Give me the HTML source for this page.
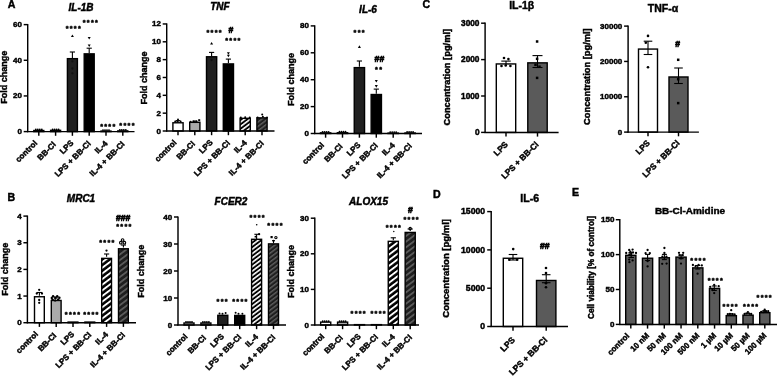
<!DOCTYPE html>
<html><head><meta charset="utf-8"><title>Figure</title>
<style>html,body{margin:0;padding:0;background:#fff;}svg{display:block;}</style>
</head><body>
<svg width="777" height="376" viewBox="0 0 777 376" font-family="'Liberation Sans', Arial, Helvetica, sans-serif">
<defs>
<pattern id="hw" patternUnits="userSpaceOnUse" width="10" height="3.5" patternTransform="rotate(-37)"><rect width="10" height="3.5" fill="#000"/><rect width="10" height="1.6" fill="#fff"/></pattern>
<pattern id="hg" patternUnits="userSpaceOnUse" width="10" height="3.5" patternTransform="rotate(-37)"><rect width="10" height="3.5" fill="#1e1e1e"/><rect width="10" height="1.4" fill="#5e5e5e"/></pattern>
<pattern id="hw2" patternUnits="userSpaceOnUse" width="10" height="4.5" patternTransform="rotate(-37)"><rect width="10" height="4.5" fill="#000"/><rect width="10" height="1.9" fill="#fff"/></pattern>
<pattern id="hg2" patternUnits="userSpaceOnUse" width="10" height="4.5" patternTransform="rotate(-37)"><rect width="10" height="4.5" fill="#1e1e1e"/><rect width="10" height="1.7" fill="#5e5e5e"/></pattern>
</defs>
<rect width="777" height="376" fill="#fff"/>
<text x="11.6" y="7.8" font-size="10.6" text-anchor="middle" font-weight="bold" fill="#000" stroke="#000" stroke-width="0.45">A</text>
<rect x="33.8" y="130.52" width="10" height="1.08" fill="#fff" stroke="#000" stroke-width="1.4"/>
<rect x="50.6" y="130.34" width="10" height="1.26" fill="#a9a9a9" stroke="#000" stroke-width="1.4"/>
<rect x="67.4" y="58.66" width="10" height="72.94" fill="#202020" stroke="#000" stroke-width="1.4"/>
<rect x="84.2" y="53.85" width="10" height="77.75" fill="#000" stroke="#000" stroke-width="1.4"/>
<rect x="101" y="131.05" width="10" height="0.55" fill="url(#hw)" stroke="#000" stroke-width="1.4"/>
<rect x="117.8" y="130.87" width="10" height="0.73" fill="url(#hg)" stroke="#000" stroke-width="1.4"/>
<line x1="27.7" y1="24.02" x2="27.7" y2="132.2" stroke="#000" stroke-width="1.45"/>
<line x1="27.1" y1="131.6" x2="134.5" y2="131.6" stroke="#000" stroke-width="1.45"/>
<line x1="23.7" y1="131.6" x2="27.7" y2="131.6" stroke="#000" stroke-width="1.45"/>
<text x="21.9" y="134.1" font-size="8" text-anchor="end" font-weight="bold" fill="#000" stroke="#000" stroke-width="0.45">0</text>
<line x1="23.7" y1="95.94" x2="27.7" y2="95.94" stroke="#000" stroke-width="1.45"/>
<text x="21.9" y="98.44" font-size="8" text-anchor="end" font-weight="bold" fill="#000" stroke="#000" stroke-width="0.45">20</text>
<line x1="23.7" y1="60.28" x2="27.7" y2="60.28" stroke="#000" stroke-width="1.45"/>
<text x="21.9" y="62.78" font-size="8" text-anchor="end" font-weight="bold" fill="#000" stroke="#000" stroke-width="0.45">40</text>
<line x1="23.7" y1="24.62" x2="27.7" y2="24.62" stroke="#000" stroke-width="1.45"/>
<text x="21.9" y="27.12" font-size="8" text-anchor="end" font-weight="bold" fill="#000" stroke="#000" stroke-width="0.45">60</text>
<line x1="38.8" y1="131.6" x2="38.8" y2="135.8" stroke="#000" stroke-width="1.45"/>
<line x1="55.6" y1="131.6" x2="55.6" y2="135.8" stroke="#000" stroke-width="1.45"/>
<line x1="72.4" y1="131.6" x2="72.4" y2="135.8" stroke="#000" stroke-width="1.45"/>
<line x1="89.2" y1="131.6" x2="89.2" y2="135.8" stroke="#000" stroke-width="1.45"/>
<line x1="106" y1="131.6" x2="106" y2="135.8" stroke="#000" stroke-width="1.45"/>
<line x1="122.8" y1="131.6" x2="122.8" y2="135.8" stroke="#000" stroke-width="1.45"/>
<text x="37.9" y="143.7" font-size="8" text-anchor="end" font-weight="bold" transform="rotate(-45 37.9 143.7)" fill="#000" stroke="#000" stroke-width="0.45">control</text>
<text x="56.3" y="145" font-size="8" text-anchor="end" font-weight="bold" transform="rotate(-45 56.3 145)" fill="#000" stroke="#000" stroke-width="0.45">BB-Cl</text>
<text x="74.1" y="143.5" font-size="8" text-anchor="end" font-weight="bold" transform="rotate(-45 74.1 143.5)" fill="#000" stroke="#000" stroke-width="0.45">LPS</text>
<text x="91.3" y="144.2" font-size="8" text-anchor="end" font-weight="bold" transform="rotate(-45 91.3 144.2)" fill="#000" stroke="#000" stroke-width="0.45">LPS + BB-Cl</text>
<text x="108.1" y="144" font-size="8" text-anchor="end" font-weight="bold" transform="rotate(-45 108.1 144)" fill="#000" stroke="#000" stroke-width="0.45">IL-4</text>
<text x="125.1" y="144.6" font-size="8" text-anchor="end" font-weight="bold" transform="rotate(-45 125.1 144.6)" fill="#000" stroke="#000" stroke-width="0.45">IL-4 + BB-Cl</text>
<text x="81" y="10.8" font-size="10" text-anchor="middle" font-weight="bold" font-style="italic" fill="#000" stroke="#000" stroke-width="0.45">IL-1B</text>
<text x="7.4" y="77.3" font-size="9" text-anchor="middle" font-weight="bold" transform="rotate(-90 7.4 77.3)" fill="#000" stroke="#000" stroke-width="0.45">Fold change</text>
<circle cx="35.8" cy="129.52" r="0.9" fill="#000"/>
<circle cx="37.8" cy="129.52" r="0.9" fill="#000"/>
<circle cx="39.8" cy="129.52" r="0.9" fill="#000"/>
<circle cx="41.8" cy="129.52" r="0.9" fill="#000"/>
<circle cx="52.6" cy="129.34" r="0.9" fill="#000"/>
<circle cx="54.6" cy="129.34" r="0.9" fill="#000"/>
<circle cx="56.6" cy="129.34" r="0.9" fill="#000"/>
<circle cx="58.6" cy="129.34" r="0.9" fill="#000"/>
<circle cx="103" cy="130.05" r="0.9" fill="#000"/>
<circle cx="105" cy="130.05" r="0.9" fill="#000"/>
<circle cx="107" cy="130.05" r="0.9" fill="#000"/>
<circle cx="109" cy="130.05" r="0.9" fill="#000"/>
<circle cx="119.8" cy="129.87" r="0.9" fill="#000"/>
<circle cx="121.8" cy="129.87" r="0.9" fill="#000"/>
<circle cx="123.8" cy="129.87" r="0.9" fill="#000"/>
<circle cx="125.8" cy="129.87" r="0.9" fill="#000"/>
<line x1="72.4" y1="52" x2="72.4" y2="58" stroke="#000" stroke-width="1.1"/>
<line x1="69.8" y1="52" x2="75" y2="52" stroke="#000" stroke-width="1.1"/>
<polygon points="70.9,37.07 73.9,37.07 72.4,34.52" fill="#000"/>
<circle cx="72.4" cy="61.3" r="1.15" fill="#111"/>
<circle cx="72.4" cy="68.5" r="1.15" fill="#111"/>
<circle cx="72.4" cy="73.3" r="1.15" fill="#111"/>
<line x1="89.2" y1="48.2" x2="89.2" y2="53" stroke="#000" stroke-width="1.1"/>
<line x1="86.6" y1="48.2" x2="91.8" y2="48.2" stroke="#000" stroke-width="1.1"/>
<polygon points="87.7,36.93 90.7,36.93 89.2,39.48" fill="#000"/>
<polygon points="87.7,44.52 90.7,44.52 89.2,47.07" fill="#000"/>
<text x="73.85" y="31.47" font-size="7.2" text-anchor="middle" font-weight="bold" letter-spacing="1.3" stroke="#000" stroke-width="0.45">****</text>
<text x="90.95" y="24.87" font-size="7.2" text-anchor="middle" font-weight="bold" letter-spacing="1.3" stroke="#000" stroke-width="0.45">****</text>
<text x="108.35" y="129.07" font-size="7.2" text-anchor="middle" font-weight="bold" letter-spacing="1.3" stroke="#000" stroke-width="0.45">****</text>
<text x="127.55" y="128.47" font-size="7.2" text-anchor="middle" font-weight="bold" letter-spacing="1.3" stroke="#000" stroke-width="0.45">****</text>
<rect x="172.9" y="122.78" width="10.2" height="8.22" fill="#fff" stroke="#000" stroke-width="1.4"/>
<rect x="189.7" y="122.33" width="10.2" height="8.67" fill="#a9a9a9" stroke="#000" stroke-width="1.4"/>
<rect x="206.5" y="56.77" width="10.2" height="74.23" fill="#202020" stroke="#000" stroke-width="1.4"/>
<rect x="223.3" y="63.91" width="10.2" height="67.09" fill="#000" stroke="#000" stroke-width="1.4"/>
<rect x="240.1" y="118.32" width="10.2" height="12.68" fill="url(#hw)" stroke="#000" stroke-width="1.4"/>
<rect x="256.9" y="117.87" width="10.2" height="13.13" fill="url(#hg)" stroke="#000" stroke-width="1.4"/>
<line x1="166.7" y1="23.36" x2="166.7" y2="131.6" stroke="#000" stroke-width="1.45"/>
<line x1="166.1" y1="131" x2="274.5" y2="131" stroke="#000" stroke-width="1.45"/>
<line x1="162.7" y1="131" x2="166.7" y2="131" stroke="#000" stroke-width="1.45"/>
<text x="160.9" y="133.5" font-size="8" text-anchor="end" font-weight="bold" fill="#000" stroke="#000" stroke-width="0.45">0</text>
<line x1="162.7" y1="113.16" x2="166.7" y2="113.16" stroke="#000" stroke-width="1.45"/>
<text x="160.9" y="115.66" font-size="8" text-anchor="end" font-weight="bold" fill="#000" stroke="#000" stroke-width="0.45">2</text>
<line x1="162.7" y1="95.32" x2="166.7" y2="95.32" stroke="#000" stroke-width="1.45"/>
<text x="160.9" y="97.82" font-size="8" text-anchor="end" font-weight="bold" fill="#000" stroke="#000" stroke-width="0.45">4</text>
<line x1="162.7" y1="77.48" x2="166.7" y2="77.48" stroke="#000" stroke-width="1.45"/>
<text x="160.9" y="79.98" font-size="8" text-anchor="end" font-weight="bold" fill="#000" stroke="#000" stroke-width="0.45">6</text>
<line x1="162.7" y1="59.64" x2="166.7" y2="59.64" stroke="#000" stroke-width="1.45"/>
<text x="160.9" y="62.14" font-size="8" text-anchor="end" font-weight="bold" fill="#000" stroke="#000" stroke-width="0.45">8</text>
<line x1="162.7" y1="41.8" x2="166.7" y2="41.8" stroke="#000" stroke-width="1.45"/>
<text x="160.9" y="44.3" font-size="8" text-anchor="end" font-weight="bold" fill="#000" stroke="#000" stroke-width="0.45">10</text>
<line x1="162.7" y1="23.96" x2="166.7" y2="23.96" stroke="#000" stroke-width="1.45"/>
<text x="160.9" y="26.46" font-size="8" text-anchor="end" font-weight="bold" fill="#000" stroke="#000" stroke-width="0.45">12</text>
<line x1="178" y1="131" x2="178" y2="135.2" stroke="#000" stroke-width="1.45"/>
<line x1="194.8" y1="131" x2="194.8" y2="135.2" stroke="#000" stroke-width="1.45"/>
<line x1="211.6" y1="131" x2="211.6" y2="135.2" stroke="#000" stroke-width="1.45"/>
<line x1="228.4" y1="131" x2="228.4" y2="135.2" stroke="#000" stroke-width="1.45"/>
<line x1="245.2" y1="131" x2="245.2" y2="135.2" stroke="#000" stroke-width="1.45"/>
<line x1="262" y1="131" x2="262" y2="135.2" stroke="#000" stroke-width="1.45"/>
<text x="177.1" y="143.1" font-size="8" text-anchor="end" font-weight="bold" transform="rotate(-45 177.1 143.1)" fill="#000" stroke="#000" stroke-width="0.45">control</text>
<text x="195.5" y="144.4" font-size="8" text-anchor="end" font-weight="bold" transform="rotate(-45 195.5 144.4)" fill="#000" stroke="#000" stroke-width="0.45">BB-Cl</text>
<text x="213.3" y="142.9" font-size="8" text-anchor="end" font-weight="bold" transform="rotate(-45 213.3 142.9)" fill="#000" stroke="#000" stroke-width="0.45">LPS</text>
<text x="230.5" y="143.6" font-size="8" text-anchor="end" font-weight="bold" transform="rotate(-45 230.5 143.6)" fill="#000" stroke="#000" stroke-width="0.45">LPS + BB-Cl</text>
<text x="247.3" y="143.4" font-size="8" text-anchor="end" font-weight="bold" transform="rotate(-45 247.3 143.4)" fill="#000" stroke="#000" stroke-width="0.45">IL-4</text>
<text x="264.3" y="144" font-size="8" text-anchor="end" font-weight="bold" transform="rotate(-45 264.3 144)" fill="#000" stroke="#000" stroke-width="0.45">IL-4 + BB-Cl</text>
<text x="220" y="10.2" font-size="10" text-anchor="middle" font-weight="bold" font-style="italic" fill="#000" stroke="#000" stroke-width="0.45">TNF</text>
<text x="146.5" y="78" font-size="9" text-anchor="middle" font-weight="bold" transform="rotate(-90 146.5 78)" fill="#000" stroke="#000" stroke-width="0.45">Fold change</text>
<circle cx="178" cy="119.4" r="1.0" fill="#000"/>
<circle cx="175.2" cy="121.6" r="1.0" fill="#000"/>
<circle cx="177.4" cy="121.2" r="1.0" fill="#000"/>
<circle cx="180.6" cy="121.6" r="1.0" fill="#000"/>
<circle cx="190.6" cy="121.8" r="1.0" fill="#000"/>
<circle cx="193.5" cy="121.4" r="1.0" fill="#000"/>
<circle cx="196.5" cy="121.6" r="1.0" fill="#000"/>
<circle cx="240.8" cy="117.4" r="1.0" fill="#000"/>
<circle cx="245.2" cy="117.2" r="1.0" fill="#000"/>
<circle cx="249.7" cy="117.4" r="1.0" fill="#000"/>
<circle cx="257.6" cy="117.6" r="1.0" fill="#000"/>
<circle cx="262.9" cy="116.8" r="1.0" fill="#000"/>
<circle cx="267" cy="117.4" r="1.0" fill="#000"/>
<circle cx="262.2" cy="114.6" r="1.0" fill="#000"/>
<rect x="198.2" y="119.2" width="2" height="2" fill="#000"/>
<line x1="178" y1="120.6" x2="178" y2="122.2" stroke="#000" stroke-width="1.1"/>
<line x1="175.7" y1="120.6" x2="180.3" y2="120.6" stroke="#000" stroke-width="1.1"/>
<line x1="194.9" y1="121" x2="194.9" y2="122.6" stroke="#000" stroke-width="1.1"/>
<line x1="192.6" y1="121" x2="197.2" y2="121" stroke="#000" stroke-width="1.1"/>
<line x1="211.6" y1="52.4" x2="211.6" y2="56.3" stroke="#000" stroke-width="1.1"/>
<line x1="209" y1="52.4" x2="214.2" y2="52.4" stroke="#000" stroke-width="1.1"/>
<polygon points="210.1,44.48 213.1,44.48 211.6,41.93" fill="#000"/>
<circle cx="211.6" cy="60" r="1.15" fill="#111"/>
<line x1="228.4" y1="59.1" x2="228.4" y2="63.1" stroke="#000" stroke-width="1.1"/>
<line x1="225.8" y1="59.1" x2="231" y2="59.1" stroke="#000" stroke-width="1.1"/>
<polygon points="226.9,52.23 229.9,52.23 228.4,54.77" fill="#000"/>
<polygon points="226.9,54.73 229.9,54.73 228.4,57.27" fill="#000"/>
<text x="214.65" y="34.67" font-size="7.2" text-anchor="middle" font-weight="bold" letter-spacing="1.3" stroke="#000" stroke-width="0.45">****</text>
<text x="231" y="33.01" font-size="8.6" text-anchor="middle" font-weight="bold" fill="#000" stroke="#000" stroke-width="0.6">#</text>
<text x="233.45" y="43.17" font-size="7.2" text-anchor="middle" font-weight="bold" letter-spacing="1.3" stroke="#000" stroke-width="0.45">****</text>
<rect x="320.45" y="132.85" width="10.3" height="0.64" fill="#fff" stroke="#000" stroke-width="1.4"/>
<rect x="337.35" y="132.72" width="10.3" height="0.78" fill="#a9a9a9" stroke="#000" stroke-width="1.4"/>
<rect x="354.25" y="67.62" width="10.3" height="65.88" fill="#202020" stroke="#000" stroke-width="1.4"/>
<rect x="371.15" y="94.52" width="10.3" height="38.98" fill="#000" stroke="#000" stroke-width="1.4"/>
<rect x="388.05" y="133.12" width="10.3" height="0.38" fill="url(#hw)" stroke="#000" stroke-width="1.4"/>
<rect x="404.95" y="132.99" width="10.3" height="0.51" fill="url(#hg)" stroke="#000" stroke-width="1.4"/>
<line x1="314.7" y1="25.3" x2="314.7" y2="134.1" stroke="#000" stroke-width="1.45"/>
<line x1="314.1" y1="133.5" x2="422" y2="133.5" stroke="#000" stroke-width="1.45"/>
<line x1="310.7" y1="133.5" x2="314.7" y2="133.5" stroke="#000" stroke-width="1.45"/>
<text x="308.9" y="136" font-size="8" text-anchor="end" font-weight="bold" fill="#000" stroke="#000" stroke-width="0.45">0</text>
<line x1="310.7" y1="106.6" x2="314.7" y2="106.6" stroke="#000" stroke-width="1.45"/>
<text x="308.9" y="109.1" font-size="8" text-anchor="end" font-weight="bold" fill="#000" stroke="#000" stroke-width="0.45">20</text>
<line x1="310.7" y1="79.7" x2="314.7" y2="79.7" stroke="#000" stroke-width="1.45"/>
<text x="308.9" y="82.2" font-size="8" text-anchor="end" font-weight="bold" fill="#000" stroke="#000" stroke-width="0.45">40</text>
<line x1="310.7" y1="52.8" x2="314.7" y2="52.8" stroke="#000" stroke-width="1.45"/>
<text x="308.9" y="55.3" font-size="8" text-anchor="end" font-weight="bold" fill="#000" stroke="#000" stroke-width="0.45">60</text>
<line x1="310.7" y1="25.9" x2="314.7" y2="25.9" stroke="#000" stroke-width="1.45"/>
<text x="308.9" y="28.4" font-size="8" text-anchor="end" font-weight="bold" fill="#000" stroke="#000" stroke-width="0.45">80</text>
<line x1="325.6" y1="133.5" x2="325.6" y2="137.7" stroke="#000" stroke-width="1.45"/>
<line x1="342.5" y1="133.5" x2="342.5" y2="137.7" stroke="#000" stroke-width="1.45"/>
<line x1="359.4" y1="133.5" x2="359.4" y2="137.7" stroke="#000" stroke-width="1.45"/>
<line x1="376.3" y1="133.5" x2="376.3" y2="137.7" stroke="#000" stroke-width="1.45"/>
<line x1="393.2" y1="133.5" x2="393.2" y2="137.7" stroke="#000" stroke-width="1.45"/>
<line x1="410.1" y1="133.5" x2="410.1" y2="137.7" stroke="#000" stroke-width="1.45"/>
<text x="324.7" y="145.6" font-size="8" text-anchor="end" font-weight="bold" transform="rotate(-45 324.7 145.6)" fill="#000" stroke="#000" stroke-width="0.45">control</text>
<text x="343.2" y="146.9" font-size="8" text-anchor="end" font-weight="bold" transform="rotate(-45 343.2 146.9)" fill="#000" stroke="#000" stroke-width="0.45">BB-Cl</text>
<text x="361.1" y="145.4" font-size="8" text-anchor="end" font-weight="bold" transform="rotate(-45 361.1 145.4)" fill="#000" stroke="#000" stroke-width="0.45">LPS</text>
<text x="378.4" y="146.1" font-size="8" text-anchor="end" font-weight="bold" transform="rotate(-45 378.4 146.1)" fill="#000" stroke="#000" stroke-width="0.45">LPS + BB-Cl</text>
<text x="395.3" y="145.9" font-size="8" text-anchor="end" font-weight="bold" transform="rotate(-45 395.3 145.9)" fill="#000" stroke="#000" stroke-width="0.45">IL-4</text>
<text x="412.4" y="146.5" font-size="8" text-anchor="end" font-weight="bold" transform="rotate(-45 412.4 146.5)" fill="#000" stroke="#000" stroke-width="0.45">IL-4 + BB-Cl</text>
<text x="368" y="13" font-size="10" text-anchor="middle" font-weight="bold" font-style="italic" fill="#000" stroke="#000" stroke-width="0.45">IL-6</text>
<text x="294" y="79.5" font-size="9" text-anchor="middle" font-weight="bold" transform="rotate(-90 294 79.5)" fill="#000" stroke="#000" stroke-width="0.45">Fold change</text>
<circle cx="322.6" cy="131.85" r="0.9" fill="#000"/>
<circle cx="324.6" cy="131.85" r="0.9" fill="#000"/>
<circle cx="326.6" cy="131.85" r="0.9" fill="#000"/>
<circle cx="328.6" cy="131.85" r="0.9" fill="#000"/>
<circle cx="339.5" cy="131.72" r="0.9" fill="#000"/>
<circle cx="341.5" cy="131.72" r="0.9" fill="#000"/>
<circle cx="343.5" cy="131.72" r="0.9" fill="#000"/>
<circle cx="345.5" cy="131.72" r="0.9" fill="#000"/>
<circle cx="390.2" cy="132.12" r="0.9" fill="#000"/>
<circle cx="392.2" cy="132.12" r="0.9" fill="#000"/>
<circle cx="394.2" cy="132.12" r="0.9" fill="#000"/>
<circle cx="396.2" cy="132.12" r="0.9" fill="#000"/>
<circle cx="407.1" cy="131.99" r="0.9" fill="#000"/>
<circle cx="409.1" cy="131.99" r="0.9" fill="#000"/>
<circle cx="411.1" cy="131.99" r="0.9" fill="#000"/>
<circle cx="413.1" cy="131.99" r="0.9" fill="#000"/>
<line x1="359.4" y1="61" x2="359.4" y2="66.8" stroke="#000" stroke-width="1.1"/>
<line x1="356.8" y1="61" x2="362" y2="61" stroke="#000" stroke-width="1.1"/>
<polygon points="357.9,47.88 360.9,47.88 359.4,45.33" fill="#000"/>
<line x1="376.3" y1="89.1" x2="376.3" y2="93.8" stroke="#000" stroke-width="1.1"/>
<line x1="373.7" y1="89.1" x2="378.9" y2="89.1" stroke="#000" stroke-width="1.1"/>
<polygon points="374.8,80.02 377.8,80.02 376.3,82.58" fill="#000"/>
<polygon points="374.8,85.12 377.8,85.12 376.3,87.68" fill="#000"/>
<text x="359.75" y="34.67" font-size="7.2" text-anchor="middle" font-weight="bold" letter-spacing="1.3" stroke="#000" stroke-width="0.45">***</text>
<text x="379.4" y="61.61" font-size="8.6" text-anchor="middle" font-weight="bold" fill="#000" stroke="#000" stroke-width="0.6">##</text>
<text x="379.15" y="72.17" font-size="7.2" text-anchor="middle" font-weight="bold" letter-spacing="1.3" stroke="#000" stroke-width="0.45">**</text>
<text x="426.4" y="7.8" font-size="10.6" text-anchor="middle" font-weight="bold" fill="#000" stroke="#000" stroke-width="0.45">C</text>
<rect x="496.3" y="63.94" width="19.4" height="68.46" fill="#fff" stroke="#000" stroke-width="1.4"/>
<rect x="527.8" y="62.85" width="19.4" height="69.55" fill="#5a5a5a" stroke="#000" stroke-width="1.4"/>
<line x1="485.1" y1="22.6" x2="485.1" y2="133" stroke="#000" stroke-width="1.45"/>
<line x1="484.5" y1="132.4" x2="558.6" y2="132.4" stroke="#000" stroke-width="1.45"/>
<line x1="481.1" y1="132.4" x2="485.1" y2="132.4" stroke="#000" stroke-width="1.45"/>
<text x="479.5" y="135.01" font-size="8.3" text-anchor="end" font-weight="bold" fill="#000" stroke="#000" stroke-width="0.45">0</text>
<line x1="481.1" y1="96" x2="485.1" y2="96" stroke="#000" stroke-width="1.45"/>
<text x="479.5" y="98.61" font-size="8.3" text-anchor="end" font-weight="bold" fill="#000" stroke="#000" stroke-width="0.45">1000</text>
<line x1="481.1" y1="59.6" x2="485.1" y2="59.6" stroke="#000" stroke-width="1.45"/>
<text x="479.5" y="62.21" font-size="8.3" text-anchor="end" font-weight="bold" fill="#000" stroke="#000" stroke-width="0.45">2000</text>
<line x1="481.1" y1="23.2" x2="485.1" y2="23.2" stroke="#000" stroke-width="1.45"/>
<text x="479.5" y="25.81" font-size="8.3" text-anchor="end" font-weight="bold" fill="#000" stroke="#000" stroke-width="0.45">3000</text>
<line x1="506" y1="132.4" x2="506" y2="136.6" stroke="#000" stroke-width="1.45"/>
<line x1="537.5" y1="132.4" x2="537.5" y2="136.6" stroke="#000" stroke-width="1.45"/>
<text x="508.5" y="145" font-size="8.3" text-anchor="end" font-weight="bold" transform="rotate(-45 508.5 145)" fill="#000" stroke="#000" stroke-width="0.45">LPS</text>
<text x="539.1" y="145" font-size="8.3" text-anchor="end" font-weight="bold" transform="rotate(-45 539.1 145)" fill="#000" stroke="#000" stroke-width="0.45">LPS + BB-Cl</text>
<text x="521.7" y="8.6" font-size="10.5" text-anchor="middle" font-weight="bold" fill="#000" stroke="#000" stroke-width="0.45">IL-1β</text>
<text x="450.4" y="77.2" font-size="9.3" text-anchor="middle" font-weight="bold" transform="rotate(-90 450.4 77.2)" fill="#000" stroke="#000" stroke-width="0.45">Concentration [pg/ml]</text>
<line x1="506" y1="61.1" x2="506" y2="66" stroke="#000" stroke-width="1.1"/>
<line x1="501.3" y1="61.1" x2="510.7" y2="61.1" stroke="#000" stroke-width="1.1"/>
<circle cx="504" cy="58" r="1.3" fill="#000"/>
<circle cx="508.4" cy="59.1" r="1.3" fill="#000"/>
<circle cx="501.5" cy="66" r="1.3" fill="#000"/>
<circle cx="505.7" cy="65.5" r="1.3" fill="#000"/>
<circle cx="510.4" cy="66" r="1.3" fill="#000"/>
<line x1="537.5" y1="55.6" x2="537.5" y2="67.5" stroke="#000" stroke-width="1.1"/>
<line x1="532.5" y1="55.6" x2="542.5" y2="55.6" stroke="#000" stroke-width="1.1"/>
<line x1="532.5" y1="67.5" x2="542.5" y2="67.5" stroke="#000" stroke-width="1.1"/>
<rect x="535.85" y="57.55" width="2.5" height="2.5" fill="#000"/>
<rect x="534.25" y="63.55" width="2.5" height="2.5" fill="#000"/>
<rect x="538.25" y="65.45" width="2.5" height="2.5" fill="#000"/>
<rect x="535.85" y="76.65" width="2.5" height="2.5" fill="#000"/>
<rect x="535.85" y="40.25" width="2.5" height="2.5" fill="#000"/>
<rect x="638.5" y="49.07" width="19" height="83.03" fill="#fff" stroke="#000" stroke-width="1.4"/>
<rect x="669" y="76.98" width="19" height="55.12" fill="#5a5a5a" stroke="#000" stroke-width="1.4"/>
<line x1="628.1" y1="25.51" x2="628.1" y2="132.7" stroke="#000" stroke-width="1.45"/>
<line x1="627.5" y1="132.1" x2="698.9" y2="132.1" stroke="#000" stroke-width="1.45"/>
<line x1="624.1" y1="132.1" x2="628.1" y2="132.1" stroke="#000" stroke-width="1.45"/>
<text x="622.3" y="134.6" font-size="8.0" text-anchor="end" font-weight="bold" fill="#000" stroke="#000" stroke-width="0.45">0</text>
<line x1="624.1" y1="96.77" x2="628.1" y2="96.77" stroke="#000" stroke-width="1.45"/>
<text x="622.3" y="99.27" font-size="8.0" text-anchor="end" font-weight="bold" fill="#000" stroke="#000" stroke-width="0.45">10000</text>
<line x1="624.1" y1="61.44" x2="628.1" y2="61.44" stroke="#000" stroke-width="1.45"/>
<text x="622.3" y="63.94" font-size="8.0" text-anchor="end" font-weight="bold" fill="#000" stroke="#000" stroke-width="0.45">20000</text>
<line x1="624.1" y1="26.11" x2="628.1" y2="26.11" stroke="#000" stroke-width="1.45"/>
<text x="622.3" y="28.61" font-size="8.0" text-anchor="end" font-weight="bold" fill="#000" stroke="#000" stroke-width="0.45">30000</text>
<line x1="648" y1="132.1" x2="648" y2="136.3" stroke="#000" stroke-width="1.45"/>
<line x1="678.5" y1="132.1" x2="678.5" y2="136.3" stroke="#000" stroke-width="1.45"/>
<text x="650.5" y="143.7" font-size="8.3" text-anchor="end" font-weight="bold" transform="rotate(-45 650.5 143.7)" fill="#000" stroke="#000" stroke-width="0.45">LPS</text>
<text x="680.1" y="143.7" font-size="8.3" text-anchor="end" font-weight="bold" transform="rotate(-45 680.1 143.7)" fill="#000" stroke="#000" stroke-width="0.45">LPS + BB-Cl</text>
<text x="663" y="12" font-size="10.5" text-anchor="middle" font-weight="bold" fill="#000" stroke="#000" stroke-width="0.45">TNF-α</text>
<text x="590.2" y="76.6" font-size="9.3" text-anchor="middle" font-weight="bold" transform="rotate(-90 590.2 76.6)" fill="#000" stroke="#000" stroke-width="0.45">Concentration [pg/ml]</text>
<line x1="648" y1="41.2" x2="648" y2="54.5" stroke="#000" stroke-width="1.1"/>
<line x1="643.7" y1="41.2" x2="652.3" y2="41.2" stroke="#000" stroke-width="1.1"/>
<line x1="643.7" y1="54.5" x2="652.3" y2="54.5" stroke="#000" stroke-width="1.1"/>
<circle cx="648" cy="35.9" r="1.3" fill="#000"/>
<circle cx="645.8" cy="42.8" r="1.3" fill="#000"/>
<circle cx="648" cy="67.2" r="1.3" fill="#000"/>
<line x1="678.5" y1="68" x2="678.5" y2="83.5" stroke="#000" stroke-width="1.1"/>
<line x1="674.2" y1="68" x2="682.8" y2="68" stroke="#000" stroke-width="1.1"/>
<line x1="674.2" y1="83.5" x2="682.8" y2="83.5" stroke="#000" stroke-width="1.1"/>
<rect x="676.95" y="77.95" width="2.5" height="2.5" fill="#000"/>
<rect x="676.95" y="101.85" width="2.5" height="2.5" fill="#000"/>
<rect x="676.95" y="58.55" width="2.5" height="2.5" fill="#000"/>
<text x="677.7" y="46.81" font-size="8.6" text-anchor="middle" font-weight="bold" fill="#000" stroke="#000" stroke-width="0.6">#</text>
<text x="11.4" y="201" font-size="10.6" text-anchor="middle" font-weight="bold" fill="#000" stroke="#000" stroke-width="0.45">B</text>
<rect x="34.5" y="296.75" width="9.8" height="25.95" fill="#fff" stroke="#000" stroke-width="1.4"/>
<rect x="51.3" y="300.48" width="9.8" height="22.22" fill="#a9a9a9" stroke="#000" stroke-width="1.4"/>
<rect x="68.1" y="322.07" width="9.8" height="0.63" fill="#202020" stroke="#000" stroke-width="1.4"/>
<rect x="84.9" y="322.07" width="9.8" height="0.63" fill="#000" stroke="#000" stroke-width="1.4"/>
<rect x="101.7" y="258.37" width="9.8" height="64.33" fill="url(#hw2)" stroke="#000" stroke-width="1.4"/>
<rect x="118.5" y="248.78" width="9.8" height="73.92" fill="url(#hg2)" stroke="#000" stroke-width="1.4"/>
<line x1="27.4" y1="215.5" x2="27.4" y2="323.3" stroke="#000" stroke-width="1.45"/>
<line x1="26.8" y1="322.7" x2="136" y2="322.7" stroke="#000" stroke-width="1.45"/>
<line x1="23.4" y1="322.7" x2="27.4" y2="322.7" stroke="#000" stroke-width="1.45"/>
<text x="21.6" y="325.2" font-size="8" text-anchor="end" font-weight="bold" fill="#000" stroke="#000" stroke-width="0.45">0</text>
<line x1="23.4" y1="296.05" x2="27.4" y2="296.05" stroke="#000" stroke-width="1.45"/>
<text x="21.6" y="298.55" font-size="8" text-anchor="end" font-weight="bold" fill="#000" stroke="#000" stroke-width="0.45">1</text>
<line x1="23.4" y1="269.4" x2="27.4" y2="269.4" stroke="#000" stroke-width="1.45"/>
<text x="21.6" y="271.9" font-size="8" text-anchor="end" font-weight="bold" fill="#000" stroke="#000" stroke-width="0.45">2</text>
<line x1="23.4" y1="242.75" x2="27.4" y2="242.75" stroke="#000" stroke-width="1.45"/>
<text x="21.6" y="245.25" font-size="8" text-anchor="end" font-weight="bold" fill="#000" stroke="#000" stroke-width="0.45">3</text>
<line x1="23.4" y1="216.1" x2="27.4" y2="216.1" stroke="#000" stroke-width="1.45"/>
<text x="21.6" y="218.6" font-size="8" text-anchor="end" font-weight="bold" fill="#000" stroke="#000" stroke-width="0.45">4</text>
<line x1="39.4" y1="322.7" x2="39.4" y2="326.9" stroke="#000" stroke-width="1.45"/>
<line x1="56.2" y1="322.7" x2="56.2" y2="326.9" stroke="#000" stroke-width="1.45"/>
<line x1="73" y1="322.7" x2="73" y2="326.9" stroke="#000" stroke-width="1.45"/>
<line x1="89.8" y1="322.7" x2="89.8" y2="326.9" stroke="#000" stroke-width="1.45"/>
<line x1="106.6" y1="322.7" x2="106.6" y2="326.9" stroke="#000" stroke-width="1.45"/>
<line x1="123.4" y1="322.7" x2="123.4" y2="326.9" stroke="#000" stroke-width="1.45"/>
<text x="38.5" y="334.8" font-size="8" text-anchor="end" font-weight="bold" transform="rotate(-45 38.5 334.8)" fill="#000" stroke="#000" stroke-width="0.45">control</text>
<text x="56.9" y="336.1" font-size="8" text-anchor="end" font-weight="bold" transform="rotate(-45 56.9 336.1)" fill="#000" stroke="#000" stroke-width="0.45">BB-Cl</text>
<text x="74.7" y="334.6" font-size="8" text-anchor="end" font-weight="bold" transform="rotate(-45 74.7 334.6)" fill="#000" stroke="#000" stroke-width="0.45">LPS</text>
<text x="91.9" y="335.3" font-size="8" text-anchor="end" font-weight="bold" transform="rotate(-45 91.9 335.3)" fill="#000" stroke="#000" stroke-width="0.45">LPS + BB-Cl</text>
<text x="108.7" y="335.1" font-size="8" text-anchor="end" font-weight="bold" transform="rotate(-45 108.7 335.1)" fill="#000" stroke="#000" stroke-width="0.45">IL-4</text>
<text x="125.7" y="335.7" font-size="8" text-anchor="end" font-weight="bold" transform="rotate(-45 125.7 335.7)" fill="#000" stroke="#000" stroke-width="0.45">IL-4 + BB-Cl</text>
<text x="81" y="202" font-size="10" text-anchor="middle" font-weight="bold" font-style="italic" fill="#000" stroke="#000" stroke-width="0.45">MRC1</text>
<text x="7.9" y="269.3" font-size="9" text-anchor="middle" font-weight="bold" transform="rotate(-90 7.9 269.3)" fill="#000" stroke="#000" stroke-width="0.45">Fold change</text>
<line x1="39.4" y1="292.5" x2="39.4" y2="295.8" stroke="#000" stroke-width="1.1"/>
<line x1="36.8" y1="292.5" x2="42" y2="292.5" stroke="#000" stroke-width="1.1"/>
<circle cx="39.2" cy="289.8" r="1.15" fill="#000"/>
<circle cx="36.8" cy="293.5" r="1.15" fill="#000"/>
<circle cx="42" cy="293.5" r="1.15" fill="#000"/>
<circle cx="39.2" cy="300" r="1.15" fill="#000"/>
<circle cx="39.2" cy="302.8" r="1.15" fill="#000"/>
<circle cx="53.1" cy="296.3" r="1.2" fill="#000"/>
<circle cx="57.2" cy="296.3" r="1.2" fill="#000"/>
<circle cx="55.2" cy="298" r="1.2" fill="#000"/>
<circle cx="52.6" cy="299.6" r="1.2" fill="#000"/>
<circle cx="58.2" cy="299.4" r="1.2" fill="#000"/>
<circle cx="55.2" cy="300.4" r="1.2" fill="#000"/>
<circle cx="51.8" cy="298" r="1.2" fill="#000"/>
<circle cx="59.4" cy="297.8" r="1.2" fill="#000"/>
<line x1="56.1" y1="297" x2="56.1" y2="299.1" stroke="#000" stroke-width="1.1"/>
<line x1="53.6" y1="297" x2="58.6" y2="297" stroke="#000" stroke-width="1.1"/>
<line x1="106.6" y1="254" x2="106.6" y2="256.8" stroke="#000" stroke-width="1.1"/>
<line x1="104" y1="254" x2="109.2" y2="254" stroke="#000" stroke-width="1.1"/>
<circle cx="106.5" cy="250.6" r="1.15" fill="#000"/>
<circle cx="122.6" cy="240" r="1.3" fill="none" stroke="#000" stroke-width="1.1"/>
<circle cx="120.8" cy="242.7" r="1.3" fill="none" stroke="#000" stroke-width="1.1"/>
<circle cx="124.4" cy="242.7" r="1.3" fill="none" stroke="#000" stroke-width="1.1"/>
<line x1="123.4" y1="245" x2="123.4" y2="247.5" stroke="#000" stroke-width="1.1"/>
<line x1="120.8" y1="245" x2="126" y2="245" stroke="#000" stroke-width="1.1"/>
<text x="107.45" y="244.97" font-size="7.2" text-anchor="middle" font-weight="bold" letter-spacing="1.3" stroke="#000" stroke-width="0.45">****</text>
<text x="124.45" y="228.77" font-size="7.2" text-anchor="middle" font-weight="bold" letter-spacing="1.3" stroke="#000" stroke-width="0.45">****</text>
<text x="123.2" y="221.21" font-size="8.6" text-anchor="middle" font-weight="bold" fill="#000" stroke="#000" stroke-width="0.6">###</text>
<text x="73.05" y="317.47" font-size="7.2" text-anchor="middle" font-weight="bold" letter-spacing="1.3" stroke="#000" stroke-width="0.45">****</text>
<text x="91.45" y="317.47" font-size="7.2" text-anchor="middle" font-weight="bold" letter-spacing="1.3" stroke="#000" stroke-width="0.45">****</text>
<rect x="184" y="323" width="10" height="2" fill="#fff" stroke="#000" stroke-width="1.4"/>
<rect x="200.9" y="323" width="10" height="2" fill="#a9a9a9" stroke="#000" stroke-width="1.4"/>
<rect x="217.8" y="315.31" width="10" height="9.69" fill="#202020" stroke="#000" stroke-width="1.4"/>
<rect x="234.7" y="315.44" width="10" height="9.56" fill="#000" stroke="#000" stroke-width="1.4"/>
<rect x="251.6" y="239.3" width="10" height="85.7" fill="url(#hw)" stroke="#000" stroke-width="1.4"/>
<rect x="268.5" y="243.89" width="10" height="81.11" fill="url(#hg)" stroke="#000" stroke-width="1.4"/>
<line x1="178" y1="216.4" x2="178" y2="325.6" stroke="#000" stroke-width="1.45"/>
<line x1="177.4" y1="325" x2="286" y2="325" stroke="#000" stroke-width="1.45"/>
<line x1="174" y1="325" x2="178" y2="325" stroke="#000" stroke-width="1.45"/>
<text x="172.2" y="327.5" font-size="8" text-anchor="end" font-weight="bold" fill="#000" stroke="#000" stroke-width="0.45">0</text>
<line x1="174" y1="298" x2="178" y2="298" stroke="#000" stroke-width="1.45"/>
<text x="172.2" y="300.5" font-size="8" text-anchor="end" font-weight="bold" fill="#000" stroke="#000" stroke-width="0.45">10</text>
<line x1="174" y1="271" x2="178" y2="271" stroke="#000" stroke-width="1.45"/>
<text x="172.2" y="273.5" font-size="8" text-anchor="end" font-weight="bold" fill="#000" stroke="#000" stroke-width="0.45">20</text>
<line x1="174" y1="244" x2="178" y2="244" stroke="#000" stroke-width="1.45"/>
<text x="172.2" y="246.5" font-size="8" text-anchor="end" font-weight="bold" fill="#000" stroke="#000" stroke-width="0.45">30</text>
<line x1="174" y1="217" x2="178" y2="217" stroke="#000" stroke-width="1.45"/>
<text x="172.2" y="219.5" font-size="8" text-anchor="end" font-weight="bold" fill="#000" stroke="#000" stroke-width="0.45">40</text>
<line x1="189" y1="325" x2="189" y2="329.2" stroke="#000" stroke-width="1.45"/>
<line x1="205.9" y1="325" x2="205.9" y2="329.2" stroke="#000" stroke-width="1.45"/>
<line x1="222.8" y1="325" x2="222.8" y2="329.2" stroke="#000" stroke-width="1.45"/>
<line x1="239.7" y1="325" x2="239.7" y2="329.2" stroke="#000" stroke-width="1.45"/>
<line x1="256.6" y1="325" x2="256.6" y2="329.2" stroke="#000" stroke-width="1.45"/>
<line x1="273.5" y1="325" x2="273.5" y2="329.2" stroke="#000" stroke-width="1.45"/>
<text x="188.1" y="337.1" font-size="8" text-anchor="end" font-weight="bold" transform="rotate(-45 188.1 337.1)" fill="#000" stroke="#000" stroke-width="0.45">control</text>
<text x="206.6" y="338.4" font-size="8" text-anchor="end" font-weight="bold" transform="rotate(-45 206.6 338.4)" fill="#000" stroke="#000" stroke-width="0.45">BB-Cl</text>
<text x="224.5" y="336.9" font-size="8" text-anchor="end" font-weight="bold" transform="rotate(-45 224.5 336.9)" fill="#000" stroke="#000" stroke-width="0.45">LPS</text>
<text x="241.8" y="337.6" font-size="8" text-anchor="end" font-weight="bold" transform="rotate(-45 241.8 337.6)" fill="#000" stroke="#000" stroke-width="0.45">LPS + BB-Cl</text>
<text x="258.7" y="337.4" font-size="8" text-anchor="end" font-weight="bold" transform="rotate(-45 258.7 337.4)" fill="#000" stroke="#000" stroke-width="0.45">IL-4</text>
<text x="275.8" y="338" font-size="8" text-anchor="end" font-weight="bold" transform="rotate(-45 275.8 338)" fill="#000" stroke="#000" stroke-width="0.45">IL-4 + BB-Cl</text>
<text x="231" y="204.5" font-size="10" text-anchor="middle" font-weight="bold" font-style="italic" fill="#000" stroke="#000" stroke-width="0.45">FCER2</text>
<text x="144" y="271.3" font-size="9" text-anchor="middle" font-weight="bold" transform="rotate(-90 144 271.3)" fill="#000" stroke="#000" stroke-width="0.45">Fold change</text>
<circle cx="186" cy="322" r="0.9" fill="#000"/>
<circle cx="188" cy="322" r="0.9" fill="#000"/>
<circle cx="190" cy="322" r="0.9" fill="#000"/>
<circle cx="192" cy="322" r="0.9" fill="#000"/>
<circle cx="202.9" cy="322" r="0.9" fill="#000"/>
<circle cx="204.9" cy="322" r="0.9" fill="#000"/>
<circle cx="206.9" cy="322" r="0.9" fill="#000"/>
<circle cx="208.9" cy="322" r="0.9" fill="#000"/>
<text x="222.75" y="304.07" font-size="7.2" text-anchor="middle" font-weight="bold" letter-spacing="1.3" stroke="#000" stroke-width="0.45">***</text>
<text x="240.45" y="304.07" font-size="7.2" text-anchor="middle" font-weight="bold" letter-spacing="1.3" stroke="#000" stroke-width="0.45">****</text>
<circle cx="219.5" cy="313.4" r="1.0" fill="#000"/>
<circle cx="222.5" cy="313.8" r="1.0" fill="#000"/>
<circle cx="225.6" cy="313" r="1.0" fill="#000"/>
<circle cx="235.6" cy="312.7" r="1.0" fill="#000"/>
<circle cx="238.5" cy="313.8" r="1.0" fill="#000"/>
<circle cx="242.4" cy="313.8" r="1.0" fill="#000"/>
<text x="257.65" y="220.27" font-size="7.2" text-anchor="middle" font-weight="bold" letter-spacing="1.3" stroke="#000" stroke-width="0.45">****</text>
<circle cx="256.7" cy="224.8" r="0.8" fill="#000"/>
<text x="275.55" y="228.27" font-size="7.2" text-anchor="middle" font-weight="bold" letter-spacing="1.3" stroke="#000" stroke-width="0.45">****</text>
<line x1="256.6" y1="234.3" x2="256.6" y2="239.1" stroke="#000" stroke-width="1.1"/>
<line x1="254.3" y1="234.3" x2="258.9" y2="234.3" stroke="#000" stroke-width="1.1"/>
<circle cx="259.1" cy="234.2" r="1.15" fill="#000"/>
<circle cx="255.4" cy="236.7" r="0.9" fill="#000"/>
<line x1="273.5" y1="240.7" x2="273.5" y2="243.3" stroke="#000" stroke-width="1.1"/>
<line x1="272" y1="240.7" x2="275" y2="240.7" stroke="#000" stroke-width="1.1"/>
<rect x="270.5" y="236" width="2.2" height="2.2" fill="#000"/>
<circle cx="275.9" cy="237.6" r="1.15" fill="none" stroke="#000" stroke-width="1.1"/>
<circle cx="273.5" cy="240.7" r="0.9" fill="#000"/>
<rect x="320.65" y="322.14" width="10.1" height="2.86" fill="#fff" stroke="#000" stroke-width="1.4"/>
<rect x="337.55" y="322.14" width="10.1" height="2.86" fill="#a9a9a9" stroke="#000" stroke-width="1.4"/>
<rect x="354.45" y="324.63" width="10.1" height="0.37" fill="#202020" stroke="#000" stroke-width="1.4"/>
<rect x="371.35" y="324.63" width="10.1" height="0.37" fill="#000" stroke="#000" stroke-width="1.4"/>
<rect x="388.25" y="241.33" width="10.1" height="83.67" fill="url(#hw2)" stroke="#000" stroke-width="1.4"/>
<rect x="405.15" y="232.43" width="10.1" height="92.57" fill="url(#hg2)" stroke="#000" stroke-width="1.4"/>
<line x1="314.8" y1="217.6" x2="314.8" y2="325.6" stroke="#000" stroke-width="1.45"/>
<line x1="314.2" y1="325" x2="419" y2="325" stroke="#000" stroke-width="1.45"/>
<line x1="310.8" y1="325" x2="314.8" y2="325" stroke="#000" stroke-width="1.45"/>
<text x="309" y="327.5" font-size="8" text-anchor="end" font-weight="bold" fill="#000" stroke="#000" stroke-width="0.45">0</text>
<line x1="310.8" y1="289.4" x2="314.8" y2="289.4" stroke="#000" stroke-width="1.45"/>
<text x="309" y="291.9" font-size="8" text-anchor="end" font-weight="bold" fill="#000" stroke="#000" stroke-width="0.45">10</text>
<line x1="310.8" y1="253.8" x2="314.8" y2="253.8" stroke="#000" stroke-width="1.45"/>
<text x="309" y="256.3" font-size="8" text-anchor="end" font-weight="bold" fill="#000" stroke="#000" stroke-width="0.45">20</text>
<line x1="310.8" y1="218.2" x2="314.8" y2="218.2" stroke="#000" stroke-width="1.45"/>
<text x="309" y="220.7" font-size="8" text-anchor="end" font-weight="bold" fill="#000" stroke="#000" stroke-width="0.45">30</text>
<line x1="325.7" y1="325" x2="325.7" y2="329.2" stroke="#000" stroke-width="1.45"/>
<line x1="342.6" y1="325" x2="342.6" y2="329.2" stroke="#000" stroke-width="1.45"/>
<line x1="359.5" y1="325" x2="359.5" y2="329.2" stroke="#000" stroke-width="1.45"/>
<line x1="376.4" y1="325" x2="376.4" y2="329.2" stroke="#000" stroke-width="1.45"/>
<line x1="393.3" y1="325" x2="393.3" y2="329.2" stroke="#000" stroke-width="1.45"/>
<line x1="410.2" y1="325" x2="410.2" y2="329.2" stroke="#000" stroke-width="1.45"/>
<text x="324.8" y="337.1" font-size="8" text-anchor="end" font-weight="bold" transform="rotate(-45 324.8 337.1)" fill="#000" stroke="#000" stroke-width="0.45">control</text>
<text x="343.3" y="338.4" font-size="8" text-anchor="end" font-weight="bold" transform="rotate(-45 343.3 338.4)" fill="#000" stroke="#000" stroke-width="0.45">BB-Cl</text>
<text x="361.2" y="336.9" font-size="8" text-anchor="end" font-weight="bold" transform="rotate(-45 361.2 336.9)" fill="#000" stroke="#000" stroke-width="0.45">LPS</text>
<text x="378.5" y="337.6" font-size="8" text-anchor="end" font-weight="bold" transform="rotate(-45 378.5 337.6)" fill="#000" stroke="#000" stroke-width="0.45">LPS + BB-Cl</text>
<text x="395.4" y="337.4" font-size="8" text-anchor="end" font-weight="bold" transform="rotate(-45 395.4 337.4)" fill="#000" stroke="#000" stroke-width="0.45">IL-4</text>
<text x="412.5" y="338" font-size="8" text-anchor="end" font-weight="bold" transform="rotate(-45 412.5 338)" fill="#000" stroke="#000" stroke-width="0.45">IL-4 + BB-Cl</text>
<text x="368.5" y="205" font-size="10" text-anchor="middle" font-weight="bold" font-style="italic" fill="#000" stroke="#000" stroke-width="0.45">ALOX15</text>
<text x="293.8" y="271.5" font-size="9" text-anchor="middle" font-weight="bold" transform="rotate(-90 293.8 271.5)" fill="#000" stroke="#000" stroke-width="0.45">Fold change</text>
<circle cx="322.7" cy="321.14" r="0.9" fill="#000"/>
<circle cx="324.7" cy="321.14" r="0.9" fill="#000"/>
<circle cx="326.7" cy="321.14" r="0.9" fill="#000"/>
<circle cx="328.7" cy="321.14" r="0.9" fill="#000"/>
<circle cx="339.6" cy="321.14" r="0.9" fill="#000"/>
<circle cx="341.6" cy="321.14" r="0.9" fill="#000"/>
<circle cx="343.6" cy="321.14" r="0.9" fill="#000"/>
<circle cx="345.6" cy="321.14" r="0.9" fill="#000"/>
<text x="358.75" y="316.27" font-size="7.2" text-anchor="middle" font-weight="bold" letter-spacing="1.3" stroke="#000" stroke-width="0.45">****</text>
<text x="378.65" y="316.27" font-size="7.2" text-anchor="middle" font-weight="bold" letter-spacing="1.3" stroke="#000" stroke-width="0.45">****</text>
<text x="393.95" y="230.47" font-size="7.2" text-anchor="middle" font-weight="bold" letter-spacing="1.3" stroke="#000" stroke-width="0.45">****</text>
<circle cx="393.8" cy="231.5" r="0.7" fill="#000"/>
<text x="411.65" y="221.87" font-size="7.2" text-anchor="middle" font-weight="bold" letter-spacing="1.3" stroke="#000" stroke-width="0.45">****</text>
<text x="410.3" y="212.71" font-size="8.6" text-anchor="middle" font-weight="bold" fill="#000" stroke="#000" stroke-width="0.6">#</text>
<line x1="393.3" y1="237.8" x2="393.3" y2="240.3" stroke="#000" stroke-width="1.1"/>
<line x1="390.7" y1="237.8" x2="395.9" y2="237.8" stroke="#000" stroke-width="1.1"/>
<line x1="410.2" y1="229" x2="410.2" y2="231" stroke="#000" stroke-width="1.1"/>
<line x1="407.6" y1="229" x2="412.8" y2="229" stroke="#000" stroke-width="1.1"/>
<circle cx="410.2" cy="228.5" r="1.15" fill="none" stroke="#000" stroke-width="1.1"/>
<text x="436.8" y="197.8" font-size="10.6" text-anchor="middle" font-weight="bold" fill="#000" stroke="#000" stroke-width="0.45">D</text>
<rect x="503.3" y="258.26" width="19.4" height="68.24" fill="#fff" stroke="#000" stroke-width="1.4"/>
<rect x="536.5" y="280.47" width="19.4" height="46.03" fill="#5a5a5a" stroke="#000" stroke-width="1.4"/>
<line x1="491.2" y1="211" x2="491.2" y2="327.1" stroke="#000" stroke-width="1.45"/>
<line x1="490.6" y1="326.5" x2="568" y2="326.5" stroke="#000" stroke-width="1.45"/>
<line x1="487.2" y1="326.5" x2="491.2" y2="326.5" stroke="#000" stroke-width="1.45"/>
<text x="485.2" y="329.25" font-size="8.7" text-anchor="end" font-weight="bold" fill="#000" stroke="#000" stroke-width="0.45">0</text>
<line x1="487.2" y1="288.2" x2="491.2" y2="288.2" stroke="#000" stroke-width="1.45"/>
<text x="485.2" y="290.95" font-size="8.7" text-anchor="end" font-weight="bold" fill="#000" stroke="#000" stroke-width="0.45">5000</text>
<line x1="487.2" y1="249.9" x2="491.2" y2="249.9" stroke="#000" stroke-width="1.45"/>
<text x="485.2" y="252.65" font-size="8.7" text-anchor="end" font-weight="bold" fill="#000" stroke="#000" stroke-width="0.45">10000</text>
<line x1="487.2" y1="211.6" x2="491.2" y2="211.6" stroke="#000" stroke-width="1.45"/>
<text x="485.2" y="214.35" font-size="8.7" text-anchor="end" font-weight="bold" fill="#000" stroke="#000" stroke-width="0.45">15000</text>
<line x1="513" y1="326.5" x2="513" y2="330.7" stroke="#000" stroke-width="1.45"/>
<line x1="546.2" y1="326.5" x2="546.2" y2="330.7" stroke="#000" stroke-width="1.45"/>
<text x="515.5" y="340.5" font-size="8.5" text-anchor="end" font-weight="bold" transform="rotate(-45 515.5 340.5)" fill="#000" stroke="#000" stroke-width="0.45">LPS</text>
<text x="547.8" y="340.5" font-size="8.5" text-anchor="end" font-weight="bold" transform="rotate(-45 547.8 340.5)" fill="#000" stroke="#000" stroke-width="0.45">LPS + BB-Cl</text>
<text x="529.7" y="201.5" font-size="10.5" text-anchor="middle" font-weight="bold" fill="#000" stroke="#000" stroke-width="0.45">IL-6</text>
<text x="449.3" y="268.3" font-size="9.5" text-anchor="middle" font-weight="bold" transform="rotate(-90 449.3 268.3)" fill="#000" stroke="#000" stroke-width="0.45">Concentration [pg/ml]</text>
<line x1="513" y1="254.5" x2="513" y2="260" stroke="#000" stroke-width="1.1"/>
<line x1="508.7" y1="254.5" x2="517.3" y2="254.5" stroke="#000" stroke-width="1.1"/>
<line x1="508.7" y1="260" x2="517.3" y2="260" stroke="#000" stroke-width="1.1"/>
<circle cx="513.2" cy="249.1" r="1.3" fill="#000"/>
<circle cx="509.3" cy="259.8" r="1.3" fill="#000"/>
<circle cx="517.2" cy="259.8" r="1.3" fill="#000"/>
<line x1="546.2" y1="274.7" x2="546.2" y2="282.7" stroke="#000" stroke-width="1.1"/>
<line x1="541.9" y1="274.7" x2="550.5" y2="274.7" stroke="#000" stroke-width="1.1"/>
<line x1="541.9" y1="282.7" x2="550.5" y2="282.7" stroke="#000" stroke-width="1.1"/>
<circle cx="546" cy="268" r="1.3" fill="#000"/>
<circle cx="546" cy="273" r="1.3" fill="#000"/>
<circle cx="546" cy="283.2" r="1.3" fill="#000"/>
<circle cx="546" cy="287.2" r="1.3" fill="#000"/>
<text x="544.7" y="249.21" font-size="8.6" text-anchor="middle" font-weight="bold" fill="#000" stroke="#000" stroke-width="0.6">##</text>
<text x="575.5" y="196" font-size="10.6" text-anchor="middle" font-weight="bold" fill="#000" stroke="#000" stroke-width="0.45">E</text>
<rect x="625.7" y="255.3" width="10.2" height="69.1" fill="#5a5a5a" stroke="#000" stroke-width="1.4"/>
<rect x="642.45" y="258.23" width="10.2" height="66.17" fill="#5a5a5a" stroke="#000" stroke-width="1.4"/>
<rect x="659.2" y="257.74" width="10.2" height="66.66" fill="#5a5a5a" stroke="#000" stroke-width="1.4"/>
<rect x="675.95" y="257.11" width="10.2" height="67.29" fill="#5a5a5a" stroke="#000" stroke-width="1.4"/>
<rect x="692.7" y="267.86" width="10.2" height="56.54" fill="#5a5a5a" stroke="#000" stroke-width="1.4"/>
<rect x="709.45" y="288.39" width="10.2" height="36.01" fill="#5a5a5a" stroke="#000" stroke-width="1.4"/>
<rect x="726.2" y="315.68" width="10.2" height="8.72" fill="#5a5a5a" stroke="#000" stroke-width="1.4"/>
<rect x="742.95" y="315.19" width="10.2" height="9.21" fill="#5a5a5a" stroke="#000" stroke-width="1.4"/>
<rect x="759.7" y="312.68" width="10.2" height="11.72" fill="#5a5a5a" stroke="#000" stroke-width="1.4"/>
<line x1="619.8" y1="219.1" x2="619.8" y2="325" stroke="#000" stroke-width="1.45"/>
<line x1="619.2" y1="324.4" x2="777.5" y2="324.4" stroke="#000" stroke-width="1.45"/>
<line x1="615.8" y1="324.4" x2="619.8" y2="324.4" stroke="#000" stroke-width="1.45"/>
<text x="614.4" y="326.9" font-size="8" text-anchor="end" font-weight="bold" fill="#000" stroke="#000" stroke-width="0.45">0</text>
<line x1="615.8" y1="289.5" x2="619.8" y2="289.5" stroke="#000" stroke-width="1.45"/>
<text x="614.4" y="292" font-size="8" text-anchor="end" font-weight="bold" fill="#000" stroke="#000" stroke-width="0.45">50</text>
<line x1="615.8" y1="254.6" x2="619.8" y2="254.6" stroke="#000" stroke-width="1.45"/>
<text x="614.4" y="257.1" font-size="8" text-anchor="end" font-weight="bold" fill="#000" stroke="#000" stroke-width="0.45">100</text>
<line x1="615.8" y1="219.7" x2="619.8" y2="219.7" stroke="#000" stroke-width="1.45"/>
<text x="614.4" y="222.2" font-size="8" text-anchor="end" font-weight="bold" fill="#000" stroke="#000" stroke-width="0.45">150</text>
<line x1="630.8" y1="324.4" x2="630.8" y2="328.6" stroke="#000" stroke-width="1.45"/>
<line x1="647.55" y1="324.4" x2="647.55" y2="328.6" stroke="#000" stroke-width="1.45"/>
<line x1="664.3" y1="324.4" x2="664.3" y2="328.6" stroke="#000" stroke-width="1.45"/>
<line x1="681.05" y1="324.4" x2="681.05" y2="328.6" stroke="#000" stroke-width="1.45"/>
<line x1="697.8" y1="324.4" x2="697.8" y2="328.6" stroke="#000" stroke-width="1.45"/>
<line x1="714.55" y1="324.4" x2="714.55" y2="328.6" stroke="#000" stroke-width="1.45"/>
<line x1="731.3" y1="324.4" x2="731.3" y2="328.6" stroke="#000" stroke-width="1.45"/>
<line x1="748.05" y1="324.4" x2="748.05" y2="328.6" stroke="#000" stroke-width="1.45"/>
<line x1="764.8" y1="324.4" x2="764.8" y2="328.6" stroke="#000" stroke-width="1.45"/>
<text x="629.9" y="336.5" font-size="8" text-anchor="end" font-weight="bold" transform="rotate(-45 629.9 336.5)" fill="#000" stroke="#000" stroke-width="0.45">control</text>
<text x="649.65" y="336" font-size="8" text-anchor="end" font-weight="bold" transform="rotate(-45 649.65 336)" fill="#000" stroke="#000" stroke-width="0.45">10 nM</text>
<text x="666.4" y="336" font-size="8" text-anchor="end" font-weight="bold" transform="rotate(-45 666.4 336)" fill="#000" stroke="#000" stroke-width="0.45">50 nM</text>
<text x="683.15" y="336" font-size="8" text-anchor="end" font-weight="bold" transform="rotate(-45 683.15 336)" fill="#000" stroke="#000" stroke-width="0.45">100 nM</text>
<text x="699.9" y="336" font-size="8" text-anchor="end" font-weight="bold" transform="rotate(-45 699.9 336)" fill="#000" stroke="#000" stroke-width="0.45">500 nM</text>
<text x="716.65" y="336" font-size="8" text-anchor="end" font-weight="bold" transform="rotate(-45 716.65 336)" fill="#000" stroke="#000" stroke-width="0.45">1 µM</text>
<text x="733.4" y="336" font-size="8" text-anchor="end" font-weight="bold" transform="rotate(-45 733.4 336)" fill="#000" stroke="#000" stroke-width="0.45">10 µM</text>
<text x="750.15" y="336" font-size="8" text-anchor="end" font-weight="bold" transform="rotate(-45 750.15 336)" fill="#000" stroke="#000" stroke-width="0.45">50 µM</text>
<text x="766.9" y="336" font-size="8" text-anchor="end" font-weight="bold" transform="rotate(-45 766.9 336)" fill="#000" stroke="#000" stroke-width="0.45">100 µM</text>
<text x="690" y="213.6" font-size="9.95" text-anchor="middle" font-weight="bold" fill="#000" stroke="#000" stroke-width="0.45">BB-Cl-Amidine</text>
<text x="594" y="267.5" font-size="8.2" text-anchor="middle" font-weight="bold" transform="rotate(-90 594 267.5)" fill="#000" stroke="#000" stroke-width="0.45">Cell viability [% of control]</text>
<line x1="631.2" y1="252.6" x2="631.2" y2="257.5" stroke="#000" stroke-width="1.1"/>
<line x1="628.45" y1="252.6" x2="633.95" y2="252.6" stroke="#000" stroke-width="1.1"/>
<line x1="628.45" y1="257.5" x2="633.95" y2="257.5" stroke="#000" stroke-width="1.1"/>
<line x1="647.6" y1="254.4" x2="647.6" y2="260.5" stroke="#000" stroke-width="1.1"/>
<line x1="645.1" y1="254.4" x2="650.1" y2="254.4" stroke="#000" stroke-width="1.1"/>
<line x1="645.1" y1="260.5" x2="650.1" y2="260.5" stroke="#000" stroke-width="1.1"/>
<line x1="664.4" y1="254.4" x2="664.4" y2="259.6" stroke="#000" stroke-width="1.1"/>
<line x1="661.9" y1="254.4" x2="666.9" y2="254.4" stroke="#000" stroke-width="1.1"/>
<line x1="661.9" y1="259.6" x2="666.9" y2="259.6" stroke="#000" stroke-width="1.1"/>
<line x1="681.1" y1="255" x2="681.1" y2="258.6" stroke="#000" stroke-width="1.1"/>
<line x1="678.6" y1="255" x2="683.6" y2="255" stroke="#000" stroke-width="1.1"/>
<line x1="678.6" y1="258.6" x2="683.6" y2="258.6" stroke="#000" stroke-width="1.1"/>
<line x1="697.7" y1="265.5" x2="697.7" y2="269" stroke="#000" stroke-width="1.1"/>
<line x1="695.2" y1="265.5" x2="700.2" y2="265.5" stroke="#000" stroke-width="1.1"/>
<line x1="695.2" y1="269" x2="700.2" y2="269" stroke="#000" stroke-width="1.1"/>
<line x1="714.3" y1="286" x2="714.3" y2="290.5" stroke="#000" stroke-width="1.1"/>
<line x1="711.8" y1="286" x2="716.8" y2="286" stroke="#000" stroke-width="1.1"/>
<line x1="711.8" y1="290.5" x2="716.8" y2="290.5" stroke="#000" stroke-width="1.1"/>
<line x1="731" y1="313.8" x2="731" y2="315" stroke="#000" stroke-width="1.1"/>
<line x1="728.75" y1="313.8" x2="733.25" y2="313.8" stroke="#000" stroke-width="1.1"/>
<line x1="747.8" y1="313.2" x2="747.8" y2="314.5" stroke="#000" stroke-width="1.1"/>
<line x1="745.55" y1="313.2" x2="750.05" y2="313.2" stroke="#000" stroke-width="1.1"/>
<line x1="764.6" y1="310.6" x2="764.6" y2="312" stroke="#000" stroke-width="1.1"/>
<line x1="762.35" y1="310.6" x2="766.85" y2="310.6" stroke="#000" stroke-width="1.1"/>
<circle cx="629.2" cy="250" r="1.15" fill="#000"/>
<circle cx="632.6" cy="249.6" r="1.15" fill="#000"/>
<circle cx="626.2" cy="253" r="1.15" fill="#000"/>
<circle cx="636" cy="253" r="1.15" fill="#000"/>
<circle cx="630.4" cy="251.6" r="1.15" fill="#000"/>
<circle cx="633" cy="252.4" r="1.15" fill="#000"/>
<circle cx="629.4" cy="254.4" r="1.15" fill="#000"/>
<circle cx="631.2" cy="254" r="1.15" fill="#000"/>
<circle cx="629.2" cy="259.6" r="1.15" fill="#000"/>
<circle cx="632.6" cy="260.4" r="1.15" fill="#000"/>
<circle cx="629.4" cy="262.2" r="1.15" fill="#000"/>
<circle cx="647.6" cy="250" r="1.15" fill="#000"/>
<circle cx="645.6" cy="253.2" r="1.15" fill="#000"/>
<circle cx="649.8" cy="253.2" r="1.15" fill="#000"/>
<circle cx="647.6" cy="261.2" r="1.15" fill="#000"/>
<circle cx="647.6" cy="266.4" r="1.15" fill="#000"/>
<circle cx="664.4" cy="248" r="1.15" fill="#000"/>
<circle cx="664.4" cy="253" r="1.15" fill="#000"/>
<circle cx="662.4" cy="256.6" r="1.15" fill="#000"/>
<circle cx="666.4" cy="256.6" r="1.15" fill="#000"/>
<circle cx="662.2" cy="263.8" r="1.15" fill="#000"/>
<circle cx="666.6" cy="263.6" r="1.15" fill="#000"/>
<circle cx="679" cy="252.8" r="1.15" fill="#000"/>
<circle cx="683.2" cy="252.8" r="1.15" fill="#000"/>
<circle cx="679.6" cy="255.2" r="1.15" fill="#000"/>
<circle cx="682.6" cy="255.2" r="1.15" fill="#000"/>
<circle cx="681" cy="258.4" r="1.15" fill="#000"/>
<circle cx="681" cy="263.6" r="1.15" fill="#000"/>
<circle cx="692.9" cy="265" r="1.15" fill="#000"/>
<circle cx="695.6" cy="266.2" r="1.15" fill="#000"/>
<circle cx="698.6" cy="265" r="1.15" fill="#000"/>
<circle cx="701.8" cy="265.4" r="1.15" fill="#000"/>
<circle cx="697.6" cy="273.7" r="1.15" fill="#000"/>
<circle cx="714.2" cy="285" r="1.15" fill="#000"/>
<circle cx="710.2" cy="286.8" r="1.15" fill="#000"/>
<circle cx="718.7" cy="286.2" r="1.15" fill="#000"/>
<circle cx="714.2" cy="293.1" r="1.15" fill="#000"/>
<circle cx="712.4" cy="290" r="1.15" fill="#000"/>
<circle cx="731.2" cy="310.2" r="1.15" fill="#000"/>
<circle cx="727.8" cy="314.2" r="1.15" fill="#000"/>
<circle cx="729.8" cy="314" r="1.15" fill="#000"/>
<circle cx="732.6" cy="314.2" r="1.15" fill="#000"/>
<circle cx="734.6" cy="314.4" r="1.15" fill="#000"/>
<circle cx="747.9" cy="312.1" r="1.15" fill="#000"/>
<circle cx="744.6" cy="314" r="1.15" fill="#000"/>
<circle cx="746.4" cy="313.6" r="1.15" fill="#000"/>
<circle cx="749.4" cy="313.8" r="1.15" fill="#000"/>
<circle cx="751.2" cy="314" r="1.15" fill="#000"/>
<circle cx="764.7" cy="309.7" r="1.15" fill="#000"/>
<circle cx="761.2" cy="311.8" r="1.15" fill="#000"/>
<circle cx="763.2" cy="312.2" r="1.15" fill="#000"/>
<circle cx="766" cy="311.6" r="1.15" fill="#000"/>
<circle cx="768.2" cy="311.2" r="1.15" fill="#000"/>
<text x="698.55" y="262.67" font-size="7.2" text-anchor="middle" font-weight="bold" letter-spacing="1.3" stroke="#000" stroke-width="0.45">****</text>
<text x="715.85" y="282.67" font-size="7.2" text-anchor="middle" font-weight="bold" letter-spacing="1.3" stroke="#000" stroke-width="0.45">****</text>
<text x="730.65" y="309.27" font-size="7.2" text-anchor="middle" font-weight="bold" letter-spacing="1.3" stroke="#000" stroke-width="0.45">****</text>
<text x="751.15" y="309.27" font-size="7.2" text-anchor="middle" font-weight="bold" letter-spacing="1.3" stroke="#000" stroke-width="0.45">****</text>
<text x="764.75" y="300.37" font-size="7.2" text-anchor="middle" font-weight="bold" letter-spacing="1.3" stroke="#000" stroke-width="0.45">****</text>
</svg>
</body></html>
